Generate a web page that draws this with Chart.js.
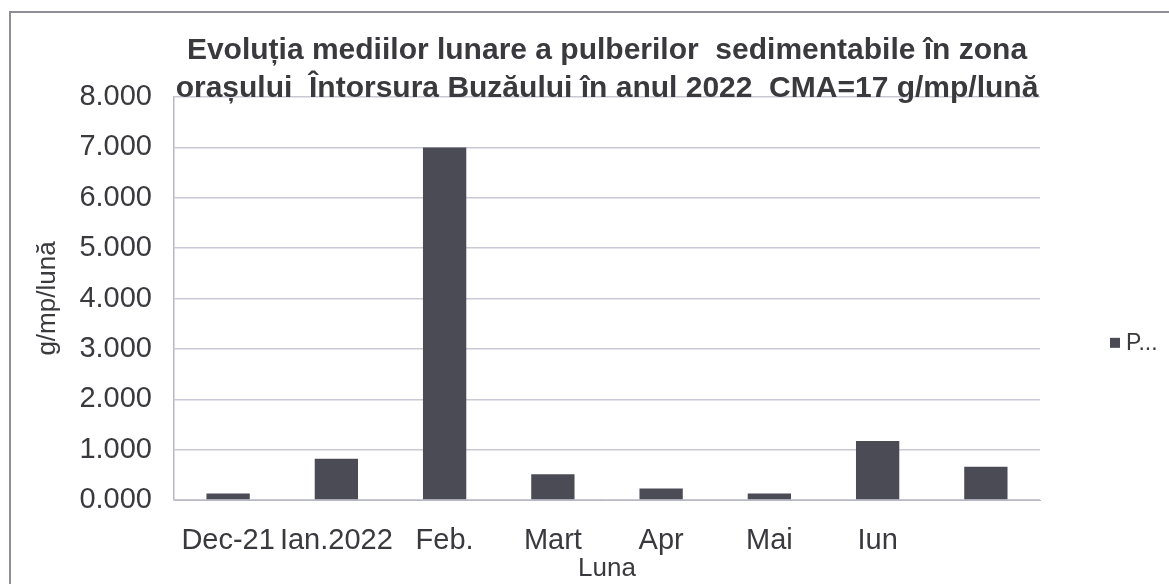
<!DOCTYPE html>
<html>
<head>
<meta charset="utf-8">
<script src="https://cdn.jsdelivr.net/npm/chart.js@4"></script>
<style>
    html, body { margin: 0; padding: 0; background: #fff; overflow: hidden; }
    #frame { position: absolute; left: 9px; top: 11px; width: 1200px; height: 620px; border: 2px solid #8e8e96; }
    #wrap { position: absolute; left: 0; top: 0; width: 1169px; height: 584px; }
</style>
</head>
<body>
<div id="frame"></div>
<div id="wrap"><canvas id="chart" width="1169" height="584"></canvas></div>
<script>
// date
const luni = ['Dec-21', 'Ian.2022', 'Feb.', 'Mart', 'Apr', 'Mai', 'Iun', ''];
const valori = [0.13, 0.82, 7.00, 0.51, 0.23, 0.13, 1.17, 0.66];
const serie = 'P...';
const titlu = [
    'Evoluția mediilor lunare a pulberilor  sedimentabile în zona',
    'orașului  Întorsura Buzăului în anul 2022  CMA=17 g/mp/lună',
];
const titluY = 'g/mp/lună';
const titluX = 'Luna';

const textColor = '#3a3a3e';
const barColor = '#4b4b56';

// legenda desenata in dreapta, ca in Excel
const legendaDreapta = {
    id: 'legendaDreapta',
    afterDraw(chart) {
        const { ctx, chartArea } = chart;
        const ds = chart.data.datasets[0];
        const x = chartArea.right + 70;
        const y = chartArea.top + (chartArea.bottom - chartArea.top) * 0.61;
        ctx.save();
        ctx.fillStyle = ds.backgroundColor;
        ctx.fillRect(x, y - 5, 10, 10);
        ctx.fillStyle = textColor;
        ctx.font = '23px "Liberation Sans", Arial, sans-serif';
        ctx.textBaseline = 'middle';
        ctx.fillText(ds.label, x + 16, y + 1);
        ctx.restore();
    },
};

const ctx = document.getElementById('chart').getContext('2d');
new Chart(ctx, {
    type: 'bar',
    data: {
        labels: luni,
        datasets: [
            {
                label: serie,
                data: valori,
                backgroundColor: barColor,
                barPercentage: 0.5,
                categoryPercentage: 0.8,
            },
        ],
    },
    options: {
        responsive: false,
        animation: false,
        layout: {
            padding: { left: 10, right: 129, top: 12, bottom: 0 },
        },
        plugins: {
            legend: { display: false },
            tooltip: { enabled: false },
            title: {
                display: true,
                text: titlu,
                fullSize: false,
                color: textColor,
                font: { family: '"Liberation Sans", Arial, sans-serif', size: 30, weight: 'bold', lineHeight: 1.25 },
                padding: { top: 20, bottom: -10 },
            },
        },
        scales: {
            x: {
                grid: { display: false },
                border: { color: '#b8b8c4' },
                ticks: {
                    color: textColor,
                    padding: 16,
                    maxRotation: 0,
                    autoSkip: false,
                    font: { family: '"Liberation Sans", Arial, sans-serif', size: 29 },
                },
                title: {
                    display: true,
                    text: titluX,
                    color: textColor,
                    padding: { top: 0, bottom: 0 },
                    font: { family: '"Liberation Sans", Arial, sans-serif', size: 26 },
                },
                afterFit(scale) { scale.height = 84; },
            },
            y: {
                min: 0,
                max: 8,
                ticks: {
                    stepSize: 1,
                    color: textColor,
                    padding: 22,
                    font: { family: '"Liberation Sans", Arial, sans-serif', size: 29 },
                    callback: v => v.toFixed(3),
                },
                grid: { color: '#c9c9d6', lineWidth: 1.5, drawTicks: false },
                border: { color: '#b8b8c4', width: 1.5 },
                title: {
                    display: true,
                    text: titluY,
                    color: textColor,
                    padding: { top: 22, bottom: 0 },
                    font: { family: '"Liberation Sans", Arial, sans-serif', size: 26 },
                },
                afterFit(scale) { scale.width = 164; },
            },
        },
    },
    plugins: [legendaDreapta],
});
</script>
</body>
</html>
